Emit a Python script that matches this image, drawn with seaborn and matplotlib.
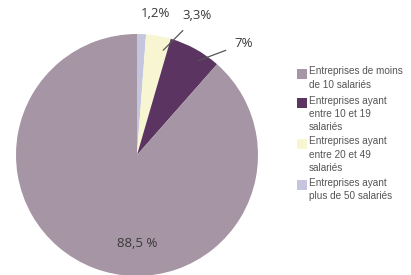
import numpy as np
import matplotlib
matplotlib.use("Agg")
import matplotlib.pyplot as plt
import seaborn as sns
from matplotlib.patches import Rectangle

# donnees
categories = ["Entreprises de moins\nde 10 salariés",
              "Entreprises ayant\nentre 10 et 19\nsalariés",
              "Entreprises ayant\nentre 20 et 49\nsalariés",
              "Entreprises ayant\nplus de 50 salariés"]
valeurs = [88.5, 7.0, 3.3, 1.2]
etiquettes = ["88,5 %", "7%", "3,3%", "1,2%"]
couleurs = ["#A695A4", "#5B3461", "#F8F6D2", "#C5C6DE"]

sns.set_style("white")
plt.rcParams["font.family"] = ["Open Sans", "DejaVu Sans"]

W, H = 411, 275
fig = plt.figure(figsize=(W / 100, H / 100), dpi=100)

# camembert : centre (137,155) px, rayon 121 px
cx, cy, r = 137, 155, 121
ax = fig.add_axes([(cx - r) / W, (H - cy - r) / H, 2 * r / W, 2 * r / H])
ordre = [3, 2, 1, 0]  # dans le sens horaire depuis midi
wedges, _ = ax.pie([valeurs[i] for i in ordre], colors=[couleurs[i] for i in ordre],
                   startangle=90, counterclock=False, radius=1,
                   wedgeprops=dict(linewidth=0))
ax.set_xlim(-1, 1)
ax.set_ylim(-1, 1)
ax.set_aspect("equal")
ax.axis("off")

txt = "#3a3a3a"
# angle milieu de chaque part
mid = {}
for k, w in zip(ordre, wedges):
    mid[k] = np.deg2rad((w.theta1 + w.theta2) / 2)

# 1,2% (pas de trait)
ax.text(0.15, 1.17, etiquettes[3], ha="center", va="center", fontsize=9.5, color=txt, clip_on=False)
# 3,3% avec trait
a = mid[2]
ax.annotate(etiquettes[2], xy=(0.88 * np.cos(a) + 0.06, 0.88 * np.sin(a)), xytext=(0.5, 1.15),
            ha="center", va="center", fontsize=9.5, color=txt, annotation_clip=False,
            arrowprops=dict(arrowstyle="-", color="#555555", lw=0.9, shrinkA=5, shrinkB=0))
# 7% avec trait
a = mid[1]
ax.annotate(etiquettes[1], xy=(0.9 * np.cos(a) + 0.07, 0.9 * np.sin(a) - 0.01), xytext=(0.88, 0.92),
            ha="center", va="center", fontsize=9.5, color=txt, annotation_clip=False,
            arrowprops=dict(arrowstyle="-", color="#555555", lw=0.9, shrinkA=4, shrinkB=0))
# 88,5 %
ax.text(0.0, -0.73, etiquettes[0], ha="center", va="center", fontsize=9.5, color=txt)

# legende
y = 74
for lab, col in zip(categories, couleurs):
    fig.patches.append(Rectangle((297 / W, 1 - (y + 5) / H), 10 / W, 10 / H,
                                 transform=fig.transFigure, facecolor=col, edgecolor="none"))
    fig.text(309 / W, 1 - (y - 7.5) / H, lab, ha="left", va="top", fontsize=7.2,
             color="#555555", linespacing=1.42, family=["Liberation Sans", "DejaVu Sans"])
    y += lab.count("\n") * 12 + 17

fig.savefig("out.png", dpi=100)
